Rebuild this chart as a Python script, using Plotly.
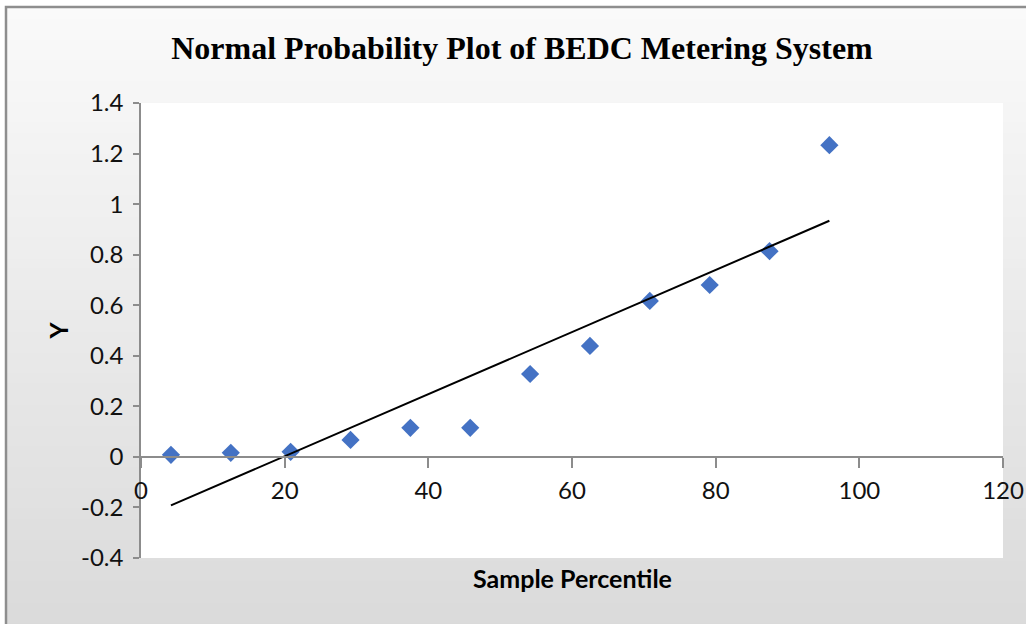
import plotly.graph_objects as go

# ---- data ----
percentile = [4.17, 12.5, 20.83, 29.17, 37.5, 45.83, 54.17, 62.5, 70.83, 79.17, 87.5, 95.83]
y_values = [0.008, 0.016, 0.02, 0.067, 0.115, 0.115, 0.328, 0.439, 0.617, 0.68, 0.814, 1.233]
trend_x = [4.17, 95.83]
trend_y = [-0.192, 0.934]
x_tickvals = [0, 20, 40, 60, 80, 100, 120]
x_ticktext = ["0", "20", "40", "60", "80", "100", "120"]
y_tickvals = [-0.4, -0.2, 0, 0.2, 0.4, 0.6, 0.8, 1.0, 1.2, 1.4]
y_ticktext = ["-0.4", "-0.2", "0", "0.2", "0.4", "0.6", "0.8", "1", "1.2", "1.4"]

W, H = 1026, 624
L, R, T, B = 141, 23, 103, 66
PW, PH = W - L - R, H - T - B
YMIN, YMAX = -0.4, 1.4


def px_x(p):
    return (p - L) / PW


def px_y(p):
    return (H - B - p) / PH


def lerp_color(c1, c2, t):
    return "rgb(%d,%d,%d)" % tuple(round(a + (b - a) * t) for a, b in zip(c1, c2))


shapes = []
# gradient background bands
n = 60
top_c, bot_c = (250, 250, 250), (218, 218, 218)
for i in range(n):
    p0 = 8 + (H + 10 - 8) * i / n
    p1 = 8 + (H + 10 - 8) * (i + 1) / n + 1
    shapes.append(dict(type="rect", xref="paper", yref="paper", layer="below",
                       x0=px_x(6), x1=px_x(W + 10), y0=px_y(p1), y1=px_y(p0),
                       fillcolor=lerp_color(top_c, bot_c, i / (n - 1)), line=dict(width=0)))
# frame
shapes.append(dict(type="rect", xref="paper", yref="paper", layer="below",
                   x0=px_x(6), x1=px_x(W + 10), y0=px_y(H + 10), y1=px_y(7),
                   fillcolor="rgba(0,0,0,0)", line=dict(color="#8e8e8e", width=2.5)))
# white plot area
shapes.append(dict(type="rect", xref="paper", yref="paper", layer="below",
                   x0=0, x1=1, y0=0, y1=1, fillcolor="white", line=dict(width=0)))

fig = go.Figure()
fig.add_trace(go.Scatter(x=percentile, y=y_values, mode="markers",
                         marker=dict(symbol="diamond", size=14, color="#4472C4"),
                         showlegend=False))
fig.add_trace(go.Scatter(x=trend_x, y=trend_y, mode="lines",
                         line=dict(color="black", width=2), showlegend=False))

tick_font = dict(family="Lato, 'Open Sans', sans-serif", size=24, color="#111")
label_font = dict(family="Lato, 'Open Sans', sans-serif", size=25, color="black")
fig.update_layout(
    width=W, height=H, autosize=False,
    margin=dict(l=L, r=R, t=T, b=B),
    paper_bgcolor="white", plot_bgcolor="white",
    shapes=shapes,
    title=dict(text="<b>Normal Probability Plot of BEDC Metering System</b>",
               font=dict(family="Liberation Serif, 'Times New Roman', serif", size=32, color="black"),
               x=522 / W, xref="container", xanchor="center", y=1 - 48 / H, yanchor="middle"),
    xaxis=dict(range=[0, 120], tickvals=x_tickvals, ticktext=x_ticktext,
               showgrid=False, zeroline=False, showline=True, linecolor="#8c8c8c", linewidth=1.5,
               ticks="outside", ticklen=10, tickcolor="#8c8c8c", tickwidth=1.5,
               anchor="free", position=(0 - YMIN) / (YMAX - YMIN), automargin=False,
               tickfont=tick_font, ticklabelstandoff=3),
    yaxis=dict(range=[YMIN, YMAX], tickvals=y_tickvals, ticktext=y_ticktext,
               showgrid=False, zeroline=False, showline=True, linecolor="#8c8c8c", linewidth=1.5,
               ticks="outside", ticklen=6, tickcolor="#8c8c8c", tickwidth=1.5, automargin=False,
               tickfont=tick_font, ticklabelstandoff=5),
    annotations=[
        dict(text="<b>Sample Percentile</b>", xref="paper", yref="paper",
             x=0.5, y=px_y(578), xanchor="center", yanchor="middle", showarrow=False,
             font=label_font),
        dict(text="<b>Y</b>", xref="paper", yref="paper", textangle=-90,
             x=px_x(57), y=0.5, xanchor="center", yanchor="middle", showarrow=False,
             font=label_font),
    ],
)

fig.write_html("out.html",
               config={"displayModeBar": False, "responsive": False},
               post_script="document.body.style.margin='0';document.body.style.overflow='hidden';")
